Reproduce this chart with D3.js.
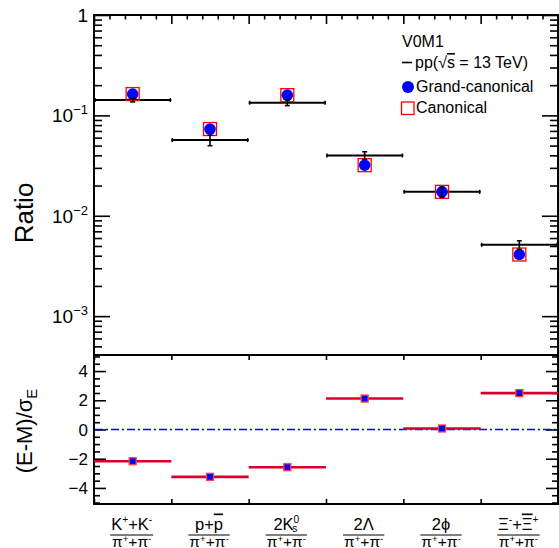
<!DOCTYPE html>
<html><head><meta charset="utf-8">
<script src="https://cdn.jsdelivr.net/npm/d3@7"></script>
<style>
body{margin:0;background:#fff}
svg{display:block}
text{font-family:"Liberation Sans",Arial,Helvetica,sans-serif;fill:#000}
</style>
</head><body>
<svg id="c" width="559" height="548"></svg>
<script>
// ---------- data ----------
const categories = ["K+K-", "p+pbar", "2K0s", "2Lambda", "2phi", "Xi+Xibar"];
const ratioData = [0.142, 0.0567, 0.1336, 0.0399, 0.0173, 0.00513];
const ratioErr  = [0.006, 0.0068, 0.0085, 0.0035, 0.002, 0.0005];
const grandCanonical = [0.163, 0.0731, 0.159, 0.0319, 0.0173, 0.00411];
const canonical      = [0.163, 0.0731, 0.159, 0.0319, 0.0173, 0.00411];
const pullValues = [-2.17, -3.24, -2.58, 2.12, 0.07, 2.49];
const pullTicks = [-4, -2, 0, 2, 4];
const logTicks = [1, 0.1, 0.01, 0.001];
const logTickExp = ["", "\u22121", "\u22122", "\u22123"];
const numerators = [
  [["K"], ["+", "sup"], ["+K"], ["-", "sup"]],
  [["p+"], ["p", "over"]],
  [["2K"], ["0", "sup"], ["s", "sub", -7]],
  [["2\u039B"]],
  [["2\u03D5"]],
  [["\u039E"], ["-", "sup"], ["+"], ["\u039E", "over"], ["+", "sup"]]
];
const denominator = [["\u03C0"], ["+", "sup"], ["+\u03C0"], ["-", "sup"]];
const legendTitle = "V0M1";
const legendEntries = ["pp(\u221As = 13 TeV)", "Grand-canonical", "Canonical"];

// ---------- layout ----------
const L = 94, R = 558, T = 15, M = 355, B = 504;
const svg = d3.select("#c");

const x = d3.scaleLinear().domain([0, categories.length]).range([L, R]);
const yTop = d3.scaleLog().domain([4.1e-4, 1]).range([M, T]);
const yBot = d3.scaleLinear().domain([-5.1, 5.1]).range([B, M]);

function styleAxis(g) {
  g.select(".domain").remove();
  g.selectAll(".tick line").attr("stroke", "#000").attr("stroke-width", 1.6);
  g.selectAll(".tick text").remove();
}

const logMinor = [];
for (let e = -4; e < 0; e++) for (let k = 2; k <= 9; k++) {
  const v = k * Math.pow(10, e);
  if (v >= 4.1e-4 && v < 1) logMinor.push(v);
}
const pullMinor = d3.range(-5, 5.01, 0.5).filter(v => Math.abs(v % 2) > 1e-9);
const edges = d3.range(0, categories.length + 1);
const xMinor = d3.range(0, categories.length + 0.001, 0.2).filter(v => Math.abs(v - Math.round(v)) > 1e-6);

// upper panel axes
svg.append("g").attr("transform", `translate(${L},0)`)
  .call(d3.axisRight(yTop).tickValues(logTicks).tickSize(16)).call(styleAxis);
svg.append("g").attr("transform", `translate(${L},0)`)
  .call(d3.axisRight(yTop).tickValues(logMinor).tickSize(8)).call(styleAxis);
svg.append("g").attr("transform", `translate(${R},0)`)
  .call(d3.axisLeft(yTop).tickValues(logTicks).tickSize(16)).call(styleAxis);
svg.append("g").attr("transform", `translate(${R},0)`)
  .call(d3.axisLeft(yTop).tickValues(logMinor).tickSize(8)).call(styleAxis);
svg.append("g").attr("transform", `translate(0,${T})`)
  .call(d3.axisBottom(x).tickValues(edges).tickSize(9)).call(styleAxis);
svg.append("g").attr("transform", `translate(0,${T})`)
  .call(d3.axisBottom(x).tickValues(xMinor).tickSize(4.5)).call(styleAxis);

// lower panel axes
svg.append("g").attr("transform", `translate(${L},0)`)
  .call(d3.axisRight(yBot).tickValues(pullTicks).tickSize(12)).call(styleAxis);
svg.append("g").attr("transform", `translate(${L},0)`)
  .call(d3.axisRight(yBot).tickValues(pullMinor).tickSize(6)).call(styleAxis);
svg.append("g").attr("transform", `translate(${R},0)`)
  .call(d3.axisLeft(yBot).tickValues(pullTicks).tickSize(12)).call(styleAxis);
svg.append("g").attr("transform", `translate(${R},0)`)
  .call(d3.axisLeft(yBot).tickValues(pullMinor).tickSize(6)).call(styleAxis);
svg.append("g").attr("transform", `translate(0,${M})`)
  .call(d3.axisBottom(x).tickValues(edges).tickSize(5)).call(styleAxis);
svg.append("g").attr("transform", `translate(0,${B})`)
  .call(d3.axisTop(x).tickValues(edges).tickSize(5)).call(styleAxis);

// frames
svg.append("rect").attr("x", L).attr("y", T).attr("width", R - L).attr("height", M - T)
  .attr("fill", "none").attr("stroke", "#000").attr("stroke-width", 2);
svg.append("rect").attr("x", L).attr("y", M).attr("width", R - L).attr("height", B - M)
  .attr("fill", "none").attr("stroke", "#000").attr("stroke-width", 2);

// upper tick labels
logTicks.forEach((v, i) => {
  const t = svg.append("text").attr("x", 88).attr("y", yTop(v) + 7)
    .attr("text-anchor", "end").attr("font-size", 19);
  t.append("tspan").text(i === 0 ? "1" : "10");
  if (logTickExp[i]) t.append("tspan").attr("dy", -8).attr("font-size", 13).text(logTickExp[i]);
});
// lower tick labels
pullTicks.forEach(v => {
  svg.append("text").attr("x", 88).attr("y", yBot(v) + 6)
    .attr("text-anchor", "end").attr("font-size", 17)
    .text(v < 0 ? "\u2212" + Math.abs(v) : String(v));
});

// axis titles
svg.append("text").attr("transform", "translate(33,213) rotate(-90)")
  .attr("text-anchor", "middle").attr("font-size", 26).text("Ratio");
const yt = svg.append("text").attr("transform", "translate(32,431) rotate(-90)")
  .attr("text-anchor", "middle").attr("font-size", 22);
yt.append("tspan").text("(E-M)/\u03C3");
yt.append("tspan").attr("dy", 5).attr("font-size", 15).text("E");

// ---------- upper data ----------
const up = svg.append("g");
categories.forEach((c, i) => {
  const yv = yTop(ratioData[i]);
  up.append("line").attr("x1", x(i)).attr("x2", x(i + 1)).attr("y1", yv).attr("y2", yv)
    .attr("stroke", "#000").attr("stroke-width", 2);
  up.append("line").attr("x1", x(i) + 1).attr("x2", x(i) + 1).attr("y1", yv - 2).attr("y2", yv + 2)
    .attr("stroke", "#000").attr("stroke-width", 1.5);
  up.append("line").attr("x1", x(i + 1) - 1).attr("x2", x(i + 1) - 1).attr("y1", yv - 2).attr("y2", yv + 2)
    .attr("stroke", "#000").attr("stroke-width", 1.5);
});
up.selectAll("rect.can").data(canonical).join("rect").attr("class", "can")
  .attr("x", (d, i) => x(i + 0.5) - 6.5).attr("y", d => yTop(d) - 6.5)
  .attr("width", 13).attr("height", 13)
  .attr("fill", "none").attr("stroke", "#ff0000").attr("stroke-width", 1.3);
up.selectAll("circle.gc").data(grandCanonical).join("circle").attr("class", "gc")
  .attr("cx", (d, i) => x(i + 0.5)).attr("cy", d => yTop(d)).attr("r", 5.8)
  .attr("fill", "#0000ff");
categories.forEach((c, i) => {
  const xc = x(i + 0.5);
  const y1 = yTop(ratioData[i] + ratioErr[i]), y2 = yTop(ratioData[i] - ratioErr[i]);
  up.append("line").attr("x1", xc).attr("x2", xc).attr("y1", y1).attr("y2", y2)
    .attr("stroke", "#000").attr("stroke-width", 1.6);
  [y1, y2].forEach(yy => up.append("line").attr("x1", xc - 2.5).attr("x2", xc + 2.5)
    .attr("y1", yy).attr("y2", yy).attr("stroke", "#000").attr("stroke-width", 1.5));
});

// ---------- legend ----------
const lg = svg.append("g");
const lfs = 16;
lg.append("text").attr("x", 402).attr("y", 47).attr("font-size", lfs).text(legendTitle);
lg.append("line").attr("x1", 402).attr("x2", 412).attr("y1", 62.5).attr("y2", 62.5)
  .attr("stroke", "#000").attr("stroke-width", 1.6);
const ppt = lg.append("text").attr("x", 415).attr("y", 68).attr("font-size", lfs);
ppt.append("tspan").text("pp(");
ppt.append("tspan").text("\u221A");
ppt.append("tspan").style("text-decoration", "overline").text("s");
ppt.append("tspan").text(" = 13 TeV)");
lg.append("circle").attr("cx", 408).attr("cy", 87).attr("r", 6).attr("fill", "#0000ff");
lg.append("text").attr("x", 416).attr("y", 92).attr("font-size", lfs).text(legendEntries[1]);
lg.append("rect").attr("x", 401.5).attr("y", 102).attr("width", 12.5).attr("height", 12.5)
  .attr("fill", "none").attr("stroke", "#ff0000").attr("stroke-width", 1.3);
lg.append("text").attr("x", 416).attr("y", 113).attr("font-size", lfs).text(legendEntries[2]);

// ---------- lower panel ----------
const lo = svg.append("g");
lo.append("line").attr("x1", L + 1).attr("x2", R - 1).attr("y1", yBot(0)).attr("y2", yBot(0))
  .attr("stroke", "#0000ff").attr("stroke-width", 1.4).attr("stroke-dasharray", "8,3,2,3");
categories.forEach((c, i) => {
  const yv = yBot(pullValues[i]);
  lo.append("line").attr("x1", x(i)).attr("x2", x(i + 1)).attr("y1", yv).attr("y2", yv)
    .attr("stroke", "#d6002c").attr("stroke-width", 2.6);
});
lo.selectAll("rect.pm").data(pullValues).join("rect").attr("class", "pm")
  .attr("x", (d, i) => x(i + 0.5) - 3.5).attr("y", d => yBot(d) - 3.5)
  .attr("width", 7).attr("height", 7)
  .attr("fill", "#0000ff").attr("stroke", "#ff4040").attr("stroke-width", 1.3);

// ---------- x category labels ----------
function renderSegs(textSel, segs, size, supK, subK) {
  let cur = 0;
  segs.forEach(s => {
    const type = s[1] || "n";
    const target = type === "sup" ? -supK * size : type === "sub" ? subK * size : 0;
    const t = textSel.append("tspan").text(s[0]).attr("dy", target - cur);
    cur = target;
    if (type === "sup" || type === "sub") t.attr("font-size", size * 0.62);
    if (type === "over") t.style("text-decoration", "overline");
    if (s[2]) t.attr("dx", s[2]);
  });
}
const fs = 16.5;
categories.forEach((c, i) => {
  const xc = x(i + 0.5) - 1;
  const g = svg.append("g");
  const num = g.append("text").attr("x", xc).attr("y", 529.5).attr("text-anchor", "middle").attr("font-size", fs);
  renderSegs(num, numerators[i], fs, 0.42, 0.15);
  const den = g.append("text").attr("x", xc).attr("y", 547).attr("text-anchor", "middle").attr("font-size", 15.5);
  renderSegs(den, denominator, 15.5, 0.3, 0.15);
  const w = Math.max(num.node().getBBox().width, den.node().getBBox().width) + 2;
  g.append("line").attr("x1", xc - w / 2).attr("x2", xc + w / 2).attr("y1", 535).attr("y2", 535)
    .attr("stroke", "#000").attr("stroke-width", 1.2);
});
</script>
</body></html>
